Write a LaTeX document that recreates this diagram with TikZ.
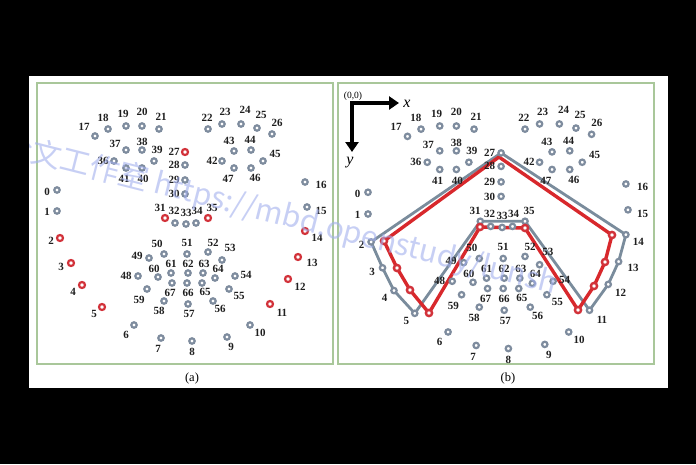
\documentclass[tikz,border=0pt]{standalone}
\usepackage{fontspec}
\setmainfont{Liberation Serif}
\newfontfamily\wmfont{Noto Sans CJK SC}
\usetikzlibrary{arrows.meta}
\pgfdeclarelayer{bg}\pgfdeclarelayer{lines}
\pgfsetlayers{bg,lines,main}
\definecolor{ringgray}{HTML}{7E8C9E}
\definecolor{ringred}{HTML}{D2323A}
\definecolor{framegreen}{HTML}{A9C79A}
\definecolor{wmblue}{HTML}{A3B0EE}
\definecolor{polygray}{HTML}{7A8C9C}
\definecolor{polyred}{HTML}{D8282C}
\tikzset{
  lm/.style={circle, draw=ringgray, fill=white, line width=2.2pt, inner sep=0pt, minimum size=5.4pt},
  lmred/.style={lm, draw=ringred, minimum size=6pt},
  special/.style={lmred},
  rv/.style={circle, draw=ringred, fill=white, line width=2.4pt, inner sep=0pt, minimum size=6.2pt},
  lab/.style={font=\fontsize{11}{11}\selectfont\bfseries, inner sep=0pt, text=black!88},
  caplab/.style={font=\fontsize{12.5}{12.5}\selectfont, inner sep=0pt},
  panelframe/.style={draw=framegreen, line width=1.3pt},
  gpoly/.style={draw=polygray, line width=2.8pt, line join=round},
  rpoly/.style={draw=polyred, line width=3.4pt, line join=round},
  axisarrow/.style={line width=4pt, line join=miter, {Triangle[width=13pt,length=10pt]}-{Triangle[width=13pt,length=10pt]}},
  wm/.style={font=\wmfont\fontsize{30}{30}\selectfont, text=wmblue, text opacity=0.6, inner sep=0pt}
}
\newcommand\LM[4][lm]{\node[#1] (\pfx#2) at (#3) {}; \node[lab] (\pfx#2t) at (#4) {#2};}
\newcommand\facepoints{%
  \LM{0}{57,190}{47,192}
  \LM{1}{57,211}{47,212}
  \LM[special]{2}{60,238}{51,241}
  \LM[special]{3}{71,263}{61,267}
  \LM[special]{4}{82,285}{73,292}
  \LM[special]{5}{102,307}{94,314}
  \LM{6}{134,325}{126,335}
  \LM{7}{161,338}{158,349}
  \LM{8}{192,341}{192,352}
  \LM{9}{227,337}{231,347}
  \LM{10}{250,325}{260,333}
  \LM[special]{11}{270,304}{282,313}
  \LM[special]{12}{288,279}{300,287}
  \LM[special]{13}{298,257}{312,263}
  \LM[special]{14}{305,231}{317,238}
  \LM{15}{307,207}{321,211}
  \LM{16}{305,182}{321,185}
  \LM{17}{95,136}{84,127}
  \LM{18}{108,129}{103,118}
  \LM{19}{126,126}{123,114}
  \LM{20}{142,126}{142,112}
  \LM{21}{159,129}{161,117}
  \LM{22}{208,129}{207,118}
  \LM{23}{222,124}{225,112}
  \LM{24}{241,124}{245,110}
  \LM{25}{257,128}{261,115}
  \LM{26}{272,134}{277,123}
  \LM[special]{27}{185,152}{174,152}
  \LM{28}{185,165}{174,165}
  \LM{29}{185,180}{174,180}
  \LM{30}{185,194}{174,194}
  \LM[special]{31}{165,218}{160,208}
  \LM{32}{175,223}{174,211}
  \LM{33}{186,224}{186,213}
  \LM{34}{196,223}{197,211}
  \LM[special]{35}{208,218}{212,208}
  \LM{36}{114,161}{103,161}
  \LM{37}{126,150}{115,144}
  \LM{38}{142,150}{142,142}
  \LM{39}{154,161}{157,150}
  \LM{40}{142,168}{143,179}
  \LM{41}{126,168}{124,179}
  \LM{42}{222,161}{212,161}
  \LM{43}{234,151}{229,141}
  \LM{44}{251,150}{250,140}
  \LM{45}{263,161}{275,154}
  \LM{46}{251,168}{255,178}
  \LM{47}{234,168}{228,179}
  \LM{48}{138,276}{126,276}
  \LM{49}{149,258}{137,256}
  \LM{50}{164,254}{157,244}
  \LM{51}{187,254}{187,243}
  \LM{52}{208,252}{213,243}
  \LM{53}{222,260}{230,248}
  \LM{54}{235,276}{246,275}
  \LM{55}{229,289}{239,296}
  \LM{56}{213,301}{220,309}
  \LM{57}{188,304}{189,314}
  \LM{58}{164,301}{159,311}
  \LM{59}{147,289}{139,300}
  \LM{60}{158,277}{154,269}
  \LM{61}{171,273}{171,264}
  \LM{62}{188,273}{188,264}
  \LM{63}{203,273}{204,264}
  \LM{64}{215,278}{218,269}
  \LM{65}{202,283}{205,292}
  \LM{66}{187,283}{188,293}
  \LM{67}{172,283}{170,293}
}
\begin{document}
\begin{tikzpicture}[x=1pt,y=-1pt]
\useasboundingbox (0,0) rectangle (696,464);
\begin{pgfonlayer}{bg}
  \fill[black] (0,0) rectangle (696,464);
  \fill[white] (29,76) rectangle (668,388);
  \draw[panelframe] (37,83) rectangle (333,364);
  \draw[panelframe] (338,83) rectangle (654,364);
\end{pgfonlayer}

% panel (a)
\begin{scope}
  \def\pfx{a}
  \facepoints
\end{scope}
\node[caplab] (capa) at (192,378) {(a)};

% panel (b)
\begin{scope}[shift={(308.7,-4.4)}, xscale=1.04, yscale=1.035, special/.style={lm}]
  \def\pfx{b}
  \facepoints
\end{scope}
\node[caplab] (capb) at (508,378) {(b)};

% red (displaced) contour in (b)
\node[rv] (r2) at (384,241) {};
\node[rv] (r3) at (397,268) {};
\node[rv] (r4) at (410,290) {};
\node[rv] (r5) at (429,313) {};
\node[rv] (r31) at (480,227) {};
\node[rv] (r35) at (525,228) {};
\node[rv] (r11) at (578,310) {};
\node[rv] (r12) at (594,286) {};
\node[rv] (r13) at (605,262) {};
\node[rv] (r14) at (612,235) {};
\coordinate (r27) at (499,157);

\begin{pgfonlayer}{lines}
  \draw[gpoly] (b2.center) -- (b3.center) -- (b4.center) -- (b5.center) -- (b31.center) -- (b35.center)
     -- (b11.center) -- (b12.center) -- (b13.center) -- (b14.center) -- (b27.center) -- cycle;
  \draw[rpoly] (r2.center) -- (r3.center) -- (r4.center) -- (r5.center) -- (r31.center) -- (r35.center)
     -- (r11.center) -- (r12.center) -- (r13.center) -- (r14.center) -- (r27) -- cycle;
\end{pgfonlayer}

% axes
\coordinate (org) at (352,103);
\coordinate (xend) at (399,103);
\coordinate (yend) at (352,152);
\draw[axisarrow] (yend) -- (org) -- (xend);
\node[font=\fontsize{9.5}{9.5}\selectfont, inner sep=0pt] (orglab) at (353,96) {(0,0)};
\node[font=\fontsize{16}{16}\selectfont\itshape, inner sep=0pt] (xlab) at (407,104) {x};
\node[font=\fontsize{16}{16}\selectfont\itshape, inner sep=0pt] (ylab) at (350,163) {y};

% watermark
\begin{scope}
  \clip (29,76) rectangle (668,388);
  \node[wm, anchor=base west, rotate=-14.2] (wmark) at (0,154) {论文工作室 https://mbd.openstudy/lunsh};
\end{scope}
\end{tikzpicture}
\end{document}
